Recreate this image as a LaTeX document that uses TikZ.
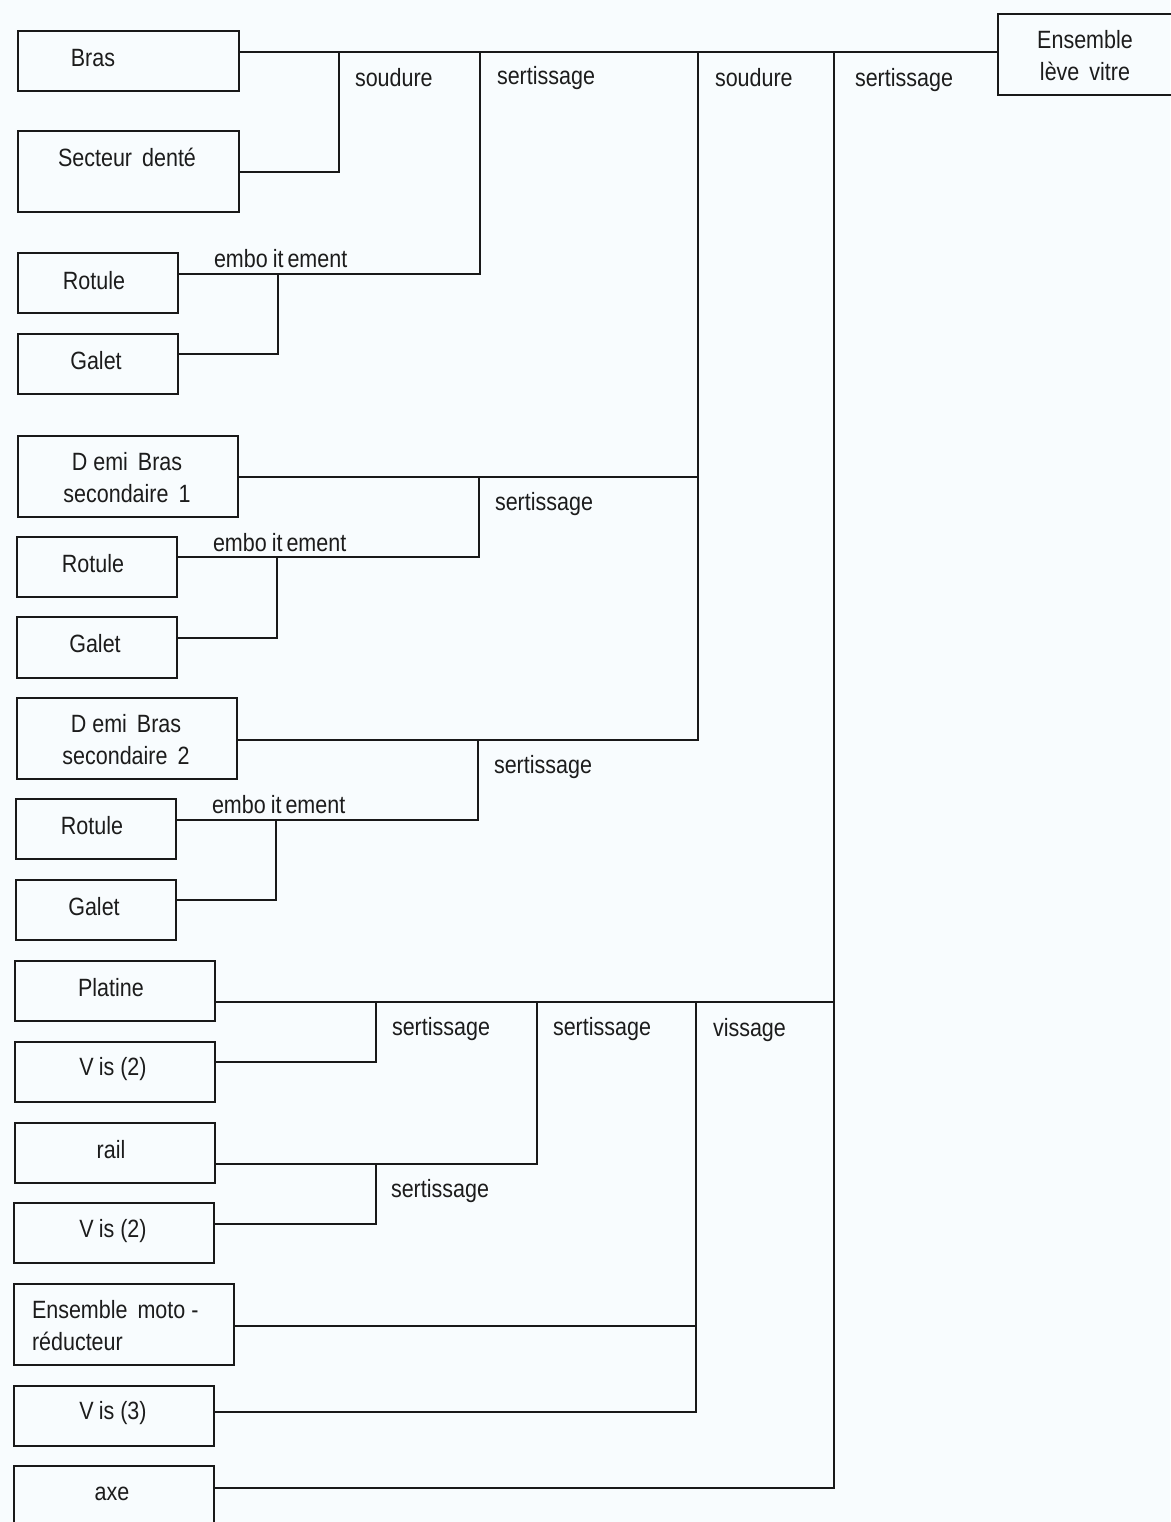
\documentclass[tikz,border=0pt]{standalone}
\usepackage{fontspec}
\setmainfont{Liberation Sans}[FakeStretch=0.86]
\definecolor{bg}{RGB}{248,252,254}
\definecolor{ink}{RGB}{28,28,28}
\definecolor{linecol}{RGB}{25,25,25}
\newcommand{\fsz}{\fontsize{25}{32}\selectfont}
\begin{document}
\begin{tikzpicture}[x=1pt,y=-1pt,
  box/.style={draw=linecol, line width=1.4pt, anchor=north west, inner sep=0pt, outer sep=0pt},
  txt/.style={inner sep=0pt, outer sep=0pt, text=ink, font=\fsz, align=center},
  lbl/.style={inner sep=0pt, outer sep=0pt, text=ink, font=\fsz, anchor=west},
  wire/.style={draw=linecol, line width=1.4pt}]
\fill[bg] (0,0) rectangle (1170,1522);
\useasboundingbox (0,0) rectangle (1170,1522);

% boxes
\node[box, minimum width=221pt, minimum height=60pt] (bras) at (18,31) {};
\node[box, minimum width=221pt, minimum height=81pt] (secteur) at (18,131) {};
\node[box, minimum width=160pt, minimum height=60pt] (rot1) at (18,253) {};
\node[box, minimum width=160pt, minimum height=60pt] (gal1) at (18,334) {};
\node[box, minimum width=220pt, minimum height=81pt] (demi1) at (18,436) {};
\node[box, minimum width=160pt, minimum height=60pt] (rot2) at (17,537) {};
\node[box, minimum width=160pt, minimum height=61pt] (gal2) at (17,617) {};
\node[box, minimum width=220pt, minimum height=81pt] (demi2) at (17,698) {};
\node[box, minimum width=160pt, minimum height=60pt] (rot3) at (16,799) {};
\node[box, minimum width=160pt, minimum height=60pt] (gal3) at (16,880) {};
\node[box, minimum width=200pt, minimum height=60pt] (platine) at (15,961) {};
\node[box, minimum width=200pt, minimum height=60pt] (vis1) at (15,1042) {};
\node[box, minimum width=200pt, minimum height=60pt] (rail) at (15,1123) {};
\node[box, minimum width=200pt, minimum height=60pt] (vis2) at (14,1203) {};
\node[box, minimum width=220pt, minimum height=81pt] (moto) at (14,1284) {};
\node[box, minimum width=200pt, minimum height=60pt] (vis3) at (14,1386) {};
\node[box, minimum width=200pt, minimum height=70pt] (axe) at (14,1466) {};
\node[box, minimum width=180pt, minimum height=81pt] (ens) at (998,14) {};

% box texts
\node[txt] (bras-t) at (93,58) {Bras};
\node[txt] (secteur-t) at (127,157) {Secteur\hspace{10pt}denté};
\node[txt] (rot1-t) at (94,281) {Rotule};
\node[txt] (gal1-t) at (96,361) {Galet};
\node[txt] (demi1-t) at (127,478) {D\hspace{6pt}emi\hspace{10pt}Bras\\secondaire\hspace{10pt}1};
\node[txt] (rot2-t) at (93,564) {Rotule};
\node[txt] (gal2-t) at (95,644) {Galet};
\node[txt] (demi2-t) at (126,740) {D\hspace{6pt}emi\hspace{10pt}Bras\\secondaire\hspace{10pt}2};
\node[txt] (rot3-t) at (92,826) {Rotule};
\node[txt] (gal3-t) at (94,907) {Galet};
\node[txt] (platine-t) at (111,988) {Platine};
\node[txt] (vis1-t) at (113,1069) {V\hspace{5pt}is (2)};
\node[txt] (rail-t) at (111,1150) {rail};
\node[txt] (vis2-t) at (113,1231) {V\hspace{5pt}is (2)};
\node[txt, align=left, anchor=west] (moto-t) at (32,1326) {Ensemble\hspace{10pt}moto -\\réducteur};
\node[txt] (vis3-t) at (113,1413) {V\hspace{5pt}is (3)};
\node[txt] (axe-t) at (112,1494) {axe};
\node[txt] (ens-t) at (1085,56) {Ensemble\\lève\hspace{10pt}vitre};

% connectors
\draw[wire] (bras.east |- 0,52) -- (ens.west |- 0,52);
\draw[wire] (secteur.east |- 0,172) -- (339,172) -- (339,52);
\draw[wire] (rot1.east |- 0,274) -- (480,274) -- (480,52);
\draw[wire] (gal1.east |- 0,354) -- (278,354) -- (278,274);
\draw[wire] (demi1.east |- 0,477) -- (698,477);
\draw[wire] (demi2.east |- 0,740) -- (698,740) -- (698,52);
\draw[wire] (rot2.east |- 0,557) -- (479,557) -- (479,477);
\draw[wire] (gal2.east |- 0,638) -- (277,638) -- (277,557);
\draw[wire] (rot3.east |- 0,820) -- (478,820) -- (478,740);
\draw[wire] (gal3.east |- 0,900) -- (276,900) -- (276,820);
\draw[wire] (platine.east |- 0,1002) -- (834,1002);
\draw[wire] (axe.east |- 0,1488) -- (834,1488) -- (834,52);
\draw[wire] (vis1.east |- 0,1062) -- (376,1062) -- (376,1002);
\draw[wire] (rail.east |- 0,1164) -- (537,1164) -- (537,1002);
\draw[wire] (vis2.east |- 0,1224) -- (376,1224) -- (376,1164);
\draw[wire] (moto.east |- 0,1326) -- (696,1326);
\draw[wire] (vis3.east |- 0,1412) -- (696,1412) -- (696,1002);

% operation labels
\node[lbl] (l1) at (355,78) {soudure};
\node[lbl] (l2) at (497,78) {sertissage};
\node[lbl] (l3) at (715,78) {soudure};
\node[lbl] (l4) at (855,80) {sertissage};
\node[lbl] (l5) at (214,259) {embo\hspace{5pt}it\hspace{4pt}ement};
\node[lbl] (l6) at (495,504) {sertissage};
\node[lbl] (l7) at (213,543) {embo\hspace{5pt}it\hspace{4pt}ement};
\node[lbl] (l8) at (494,767) {sertissage};
\node[lbl] (l9) at (212,805) {embo\hspace{5pt}it\hspace{4pt}ement};
\node[lbl] (l10) at (392,1029) {sertissage};
\node[lbl] (l11) at (553,1029) {sertissage};
\node[lbl] (l12) at (713,1030) {vissage};
\node[lbl] (l13) at (391,1191) {sertissage};
\end{tikzpicture}
\end{document}
